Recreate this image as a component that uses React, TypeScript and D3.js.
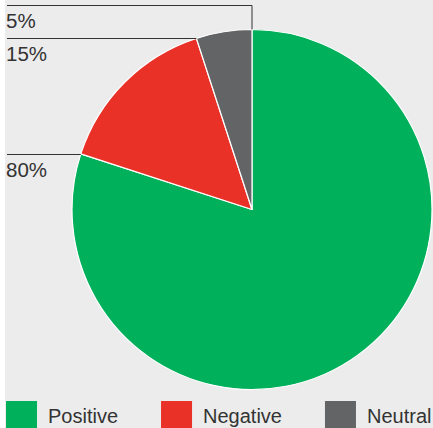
import { arc, pie, select } from 'd3';
import { useEffect, useRef } from 'react';

const categories = ['Positive', 'Negative', 'Neutral'];
const shares = [80, 15, 5];
const colors = ['#00b05b', '#ea3127', '#636466'];

export default function App() {
  const width = 433;
  const height = 428;
  const cx = 252;
  const cy = 209.5;
  const radius = 180;
  const svgRef = useRef<SVGSVGElement>(null);
  const font = 'Liberation Sans, Arial, sans-serif';

  useEffect(() => {
    const svg = select(svgRef.current);
    svg.selectAll('*').remove();

    svg
      .append('rect')
      .attr('x', 5)
      .attr('y', 0)
      .attr('width', width - 5)
      .attr('height', height)
      .attr('fill', '#ececec');

    const data = categories.map((label, i) => ({ label, value: shares[i], color: colors[i] }));
    const arcs = pie<any>()
      .sort(null)
      .value((d) => d.value)(data);
    const arcGen = arc<any>().innerRadius(0).outerRadius(radius);

    const g = svg.append('g').attr('transform', `translate(${cx},${cy})`);
    g.selectAll('path')
      .data(arcs)
      .join('path')
      .attr('d', arcGen)
      .attr('fill', (d) => d.data.color)
      .attr('stroke', '#ffffff')
      .attr('stroke-width', 1.2)
      .attr('stroke-linejoin', 'round');

    // leader lines from each slice's end edge to the left side
    const leftX = 7;
    arcs.forEach((a) => {
      const px = cx + radius * Math.sin(a.endAngle);
      const py = cy - radius * Math.cos(a.endAngle);
      const atTop = Math.abs(a.endAngle - 2 * Math.PI) < 1e-6;
      const ly = atTop ? 5.5 : Math.round(py) + 0.5;
      const pts = atTop
        ? `${leftX},${ly} ${px},${ly} ${px},${py}`
        : `${leftX},${ly} ${px},${ly}`;
      svg
        .append('polyline')
        .attr('points', pts)
        .attr('fill', 'none')
        .attr('stroke', '#333')
        .attr('stroke-width', 1);
      svg
        .append('text')
        .attr('x', 6)
        .attr('y', ly + 22)
        .attr('font-family', font)
        .attr('font-size', 20.5)
        .attr('fill', '#333')
        .text(`${a.data.value}%`);
    });

    // legend, laid out from measured text widths
    let x = 6;
    data.forEach((d) => {
      svg
        .append('rect')
        .attr('x', x)
        .attr('y', 401)
        .attr('width', 31)
        .attr('height', 30)
        .attr('fill', d.color);
      const t = svg
        .append('text')
        .attr('x', x + 42)
        .attr('y', 423)
        .attr('font-family', font)
        .attr('font-size', 20)
        .attr('fill', '#333')
        .text(d.label);
      const w = (t.node() as SVGTextElement).getComputedTextLength();
      x += 42 + w + 43;
    });
  }, []);

  return (
    <svg
      ref={svgRef}
      width={width}
      height={height}
      style={{ position: 'absolute', left: 0, top: 0, background: '#ffffff' }}></svg>
  );
}
